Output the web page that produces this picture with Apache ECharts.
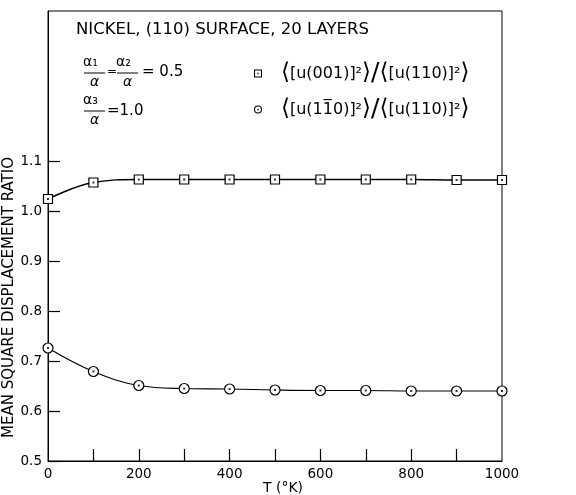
<!DOCTYPE html>
<html>
<head>
<meta charset="utf-8">
<script src="https://cdn.jsdelivr.net/npm/echarts@6/dist/echarts.min.js"></script>
<style>
html,body{margin:0;padding:0;background:#fff;}
#chart{width:576px;height:495px;}
</style>
</head>
<body>
<div id="chart"></div>
<script>
// ---- data ----
const temps = [0, 100, 200, 300, 400, 500, 600, 700, 800, 900, 1000];
const ratio001 = [1.024, 1.057, 1.063, 1.063, 1.063, 1.063, 1.063, 1.063, 1.063, 1.062, 1.062];
const ratio1m10 = [0.726, 0.679, 0.651, 0.645, 0.644, 0.642, 0.641, 0.641, 0.640, 0.640, 0.640];
const xTickValues = [100, 200, 300, 400, 500, 600, 700, 800, 900];
const yTickValues = [0.5, 0.6, 0.7, 0.8, 0.9, 1.0, 1.1];
const name001 = '\u27E8[u(001)]\u00B2\u27E9/\u27E8[u(110)]\u00B2\u27E9';
const name1m10 = '\u27E8[u(11\u03050)]\u00B2\u27E9/\u27E8[u(110)]\u00B2\u27E9';
const titleText = 'NICKEL, (110) SURFACE, 20 LAYERS';
const yTitle = 'MEAN SQUARE DISPLACEMENT RATIO';
const xTitle = 'T (\u00B0K)';

const FONT = 'DejaVu Sans';
const pairs = (ys) => temps.map((t, i) => [t, ys[i]]);

// legend rich-text: large brackets and slash
function richName(name) {
  return name
    .replace(/\u27E8/g, '{b|\u27E8}{t|')
    .replace(/\u27E9/g, '}{b|\u27E9}')
    .replace(/\}\/\{/g, '}{sl|/}{')
    .replace(/\{t\|\}/g, '');
}

const squareIcon = 'path://M0,0H10V10H0Z M1.3,1.3V8.7H8.7V1.3Z M4.2,4.2H5.8V5.8H4.2Z';
const circleIcon = 'path://M0,5A5,5 0 1,1 10,5A5,5 0 1,1 0,5Z M1.3,5A3.7,3.7 0 1,0 8.7,5A3.7,3.7 0 1,0 1.3,5Z M4.2,4.2H5.8V5.8H4.2Z';

function frac(x, y, num, den) {
  return [
    {type: 'text', left: x - 12, top: y - 18, style: {text: num, font: '14px ' + FONT, fill: '#000', width: 24, align: 'center'}},
    {type: 'line', shape: {x1: x - 11, y1: y, x2: x + 10, y2: y}, style: {stroke: '#000', lineWidth: 1}},
    {type: 'text', left: x - 5, top: y + 2, style: {text: den, font: 'italic 14px ' + FONT, fill: '#000'}}
  ];
}

const chart = echarts.init(document.getElementById('chart'));
const option = {
  backgroundColor: '#fff',
  animation: false,
  grid: {left: 48, right: 74, top: 11, bottom: 34, show: true, borderColor: '#000', borderWidth: 1, outerBoundsMode: 'none', containLabel: false},
  legend: {
    orient: 'vertical',
    left: 249,
    top: 56,
    itemGap: 11,
    itemWidth: 8,
    itemHeight: 8,
    selectedMode: false,
    formatter: richName,
    textStyle: {
      fontFamily: FONT, fontSize: 16, color: '#000', padding: [0, 0, 0, 14], lineHeight: 24,
      rich: {
        t: {fontFamily: FONT, fontSize: 16, color: '#000', lineHeight: 24},
        b: {fontFamily: FONT, fontSize: 23, color: '#000', lineHeight: 24},
        sl: {fontFamily: FONT, fontSize: 25, color: '#000', lineHeight: 24}
      }
    },
    data: [
      {name: name001, icon: squareIcon, itemStyle: {color: '#000', borderWidth: 0}},
      {name: name1m10, icon: circleIcon, itemStyle: {color: '#000', borderWidth: 0}}
    ]
  },
  xAxis: {
    type: 'value', min: 0, max: 1000, interval: 200,
    axisLine: {lineStyle: {color: '#000', width: 1}},
    axisTick: {show: true, inside: true, length: 12, customValues: xTickValues, lineStyle: {color: '#000', width: 1.2}},
    axisLabel: {fontFamily: FONT, fontSize: 13.5, color: '#000', margin: 6, formatter: v => String(v)},
    splitLine: {show: false}
  },
  yAxis: {
    type: 'value', min: 0.5, max: 1.4, interval: 0.1,
    axisLine: {show: true, lineStyle: {color: '#000', width: 1}},
    axisTick: {show: true, inside: true, length: 12, customValues: yTickValues, lineStyle: {color: '#000', width: 1.2}},
    axisLabel: {fontFamily: FONT, fontSize: 13.5, color: '#000', margin: 6, customValues: yTickValues,
      formatter: v => v.toFixed(1)},
    splitLine: {show: false}
  },
  series: [
    {
      name: name001, type: 'line', data: pairs(ratio001), smooth: 0.4,
      symbol: 'rect', symbolSize: 9, showAllSymbol: true,
      lineStyle: {color: '#000', width: 1.5},
      itemStyle: {color: '#fff', borderColor: '#000', borderWidth: 1.2},
      z: 3
    },
    {
      name: name1m10, type: 'line', data: pairs(ratio1m10), smooth: 0.4,
      symbol: 'circle', symbolSize: 10, showAllSymbol: true,
      lineStyle: {color: '#000', width: 1.2},
      itemStyle: {color: '#fff', borderColor: '#000', borderWidth: 1.2},
      z: 3
    },
    {
      name: 'dots001', type: 'scatter', data: pairs(ratio001), symbol: 'rect', symbolSize: 2,
      itemStyle: {color: '#000'}, z: 5, silent: true
    },
    {
      name: 'dots1m10', type: 'scatter', data: pairs(ratio1m10), symbol: 'rect', symbolSize: 2,
      itemStyle: {color: '#000'}, z: 5, silent: true
    }
  ],
  graphic: [
    {type: 'text', left: 76, top: 21, style: {text: titleText, font: '16.5px ' + FONT, fill: '#000'}},
    ...frac(95, 73, '\u03B1\u2081', '\u03B1'),
    {type: 'text', left: 107, top: 66, style: {text: '=', font: '12px ' + FONT, fill: '#000'}},
    ...frac(128, 73, '\u03B1\u2082', '\u03B1'),
    {type: 'text', left: 142, top: 65, style: {text: '= 0.5', font: '15px ' + FONT, fill: '#000'}},
    ...frac(95, 111, '\u03B1\u2083', '\u03B1'),
    {type: 'text', left: 107, top: 104, style: {text: '=1.0', font: '15px ' + FONT, fill: '#000'}},
    {type: 'text', x: 283, y: 488, style: {text: xTitle, font: '14px ' + FONT, fill: '#000', align: 'center', verticalAlign: 'middle'}},
    {type: 'text', rotation: Math.PI / 2, x: 2, y: 438, style: {text: yTitle, font: '15px ' + FONT, fill: '#000', align: 'left', verticalAlign: 'top'}, originX: 0, originY: 0}
  ]
};
chart.setOption(option);
</script>
</body>
</html>
